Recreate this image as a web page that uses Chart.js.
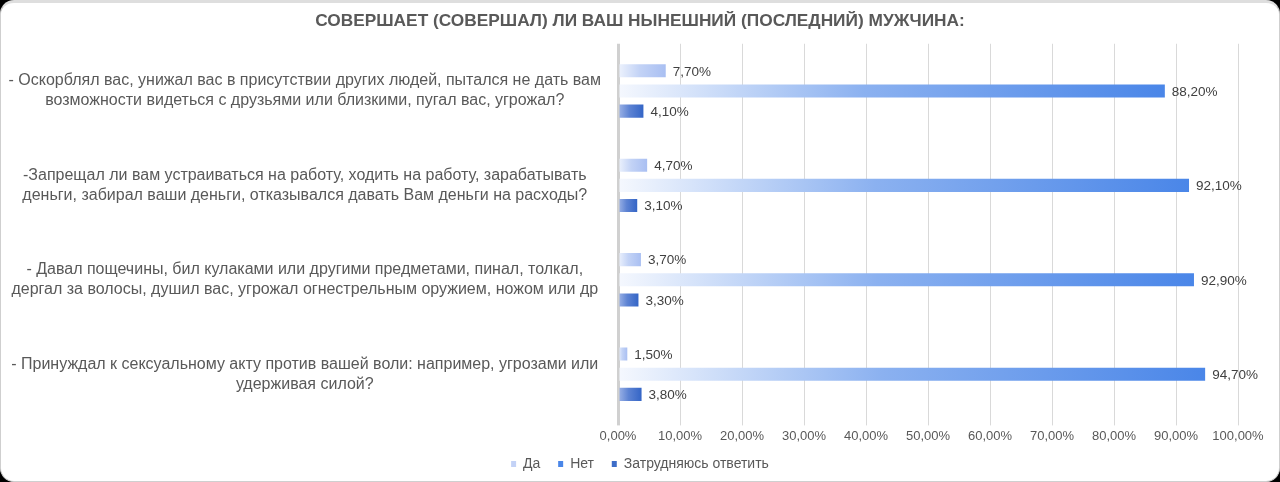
<!DOCTYPE html>
<html>
<head>
<meta charset="utf-8">
<script src="https://cdn.jsdelivr.net/npm/chart.js@4"></script>
<style>
  html, body { margin: 0; padding: 0; background: #000; }
  #wrap { position: relative; width: 1280px; height: 482px; }
  #card { position: absolute; left: 0; top: 0; width: 1278px; height: 478px; background: #fff;
          border: 1px solid #cfcfcf; border-top: 3px solid #dedede; border-radius: 14px; }
  #c { position: absolute; left: 0; top: 0; }
</style>
</head>
<body>
<div id="wrap">
  <div id="card"></div>
  <canvas id="c" width="1280" height="482"></canvas>
</div>
<script>
const titleText = 'СОВЕРШАЕТ (СОВЕРШАЛ) ЛИ ВАШ НЫНЕШНИЙ (ПОСЛЕДНИЙ) МУЖЧИНА:';
const categories = [
  ['- Оскорблял вас, унижал вас в присутствии других людей, пытался не дать вам', 'возможности видеться с друзьями или близкими, пугал вас, угрожал?'],
  ['-Запрещал ли вам устраиваться на работу, ходить на работу, зарабатывать', 'деньги, забирал ваши деньги, отказывался давать Вам деньги на расходы?'],
  ['- Давал пощечины, бил кулаками или другими предметами, пинал, толкал,', 'дергал за волосы, душил вас, угрожал огнестрельным оружием, ножом или др'],
  ['- Принуждал к сексуальному акту против вашей воли: например, угрозами или', 'удерживая силой?']
];
const seriesNames = ['Да', 'Нет', 'Затрудняюсь ответить'];
const daValues = [7.7, 4.7, 3.7, 1.5];
const netValues = [88.2, 92.1, 92.9, 94.7];
const zatrValues = [4.1, 3.1, 3.3, 3.8];

const gradSpecs = [
  { from: '#eef3fd', to: '#a9bff2', legend: '#c3d2f6' },
  { from: '#f5f8fe', to: '#4a86e8', legend: '#4a86e8' },
  { from: '#9fb5e7', to: '#3465c6', legend: '#3d6dc8' }
];

function hex(h) { return [1, 3, 5].map(i => parseInt(h.substr(i, 2), 16)); }
function mix(a, b, t) {
  const A = hex(a), B = hex(b);
  return 'rgb(' + A.map((v, i) => Math.round(v + (B[i] - v) * t)).join(',') + ')';
}

function makeBg(spec) {
  return function (ctx) {
    const chart = ctx.chart;
    if (ctx.type !== 'data' || !chart.chartArea || !chart.scales.x) return spec.legend;
    const xs = chart.scales.x;
    const x0 = xs.getPixelForValue(0);
    const x1 = xs.getPixelForValue(ctx.raw);
    if (!isFinite(x0) || !isFinite(x1) || x1 - x0 < 1) return spec.to;
    const g = chart.ctx.createLinearGradient(x0, 0, x1, 0);
    g.addColorStop(0, spec.from);
    g.addColorStop(0.45, mix(spec.from, spec.to, 0.62));
    g.addColorStop(1, spec.to);
    return g;
  };
}

function fmt(v) { return v.toFixed(2).replace('.', ',') + '%'; }

const valueLabels = {
  id: 'valueLabels',
  afterDatasetsDraw(chart) {
    const c = chart.ctx;
    c.save();
    c.font = '13.5px "Liberation Sans", Arial, sans-serif';
    c.fillStyle = '#404040';
    c.textAlign = 'left';
    c.textBaseline = 'middle';
    chart.data.datasets.forEach((ds, i) => {
      const meta = chart.getDatasetMeta(i);
      meta.data.forEach((bar, j) => {
        c.fillText(fmt(ds.data[j]), bar.x + 7, bar.y + 1);
      });
    });
    c.restore();
  }
};

const datasets = [daValues, netValues, zatrValues].map((vals, i) => ({
  label: seriesNames[i],
  data: vals,
  backgroundColor: makeBg(gradSpecs[i]),
  borderWidth: 0,
  barPercentage: 0.65,
  categoryPercentage: 0.64
}));

new Chart(document.getElementById('c'), {
  type: 'bar',
  data: { labels: categories, datasets },
  plugins: [valueLabels],
  options: {
    indexAxis: 'y',
    responsive: false,
    animation: false,
    layout: { padding: { left: 0, right: 0, top: 0, bottom: 1 } },
    plugins: {
      title: {
        display: true,
        text: titleText,
        color: '#595959',
        font: { family: '"Liberation Sans", Arial, sans-serif', size: 17.3, weight: 'bold' },
        padding: { top: 11, bottom: 12 }
      },
      legend: {
        position: 'bottom',
        labels: {
          color: '#595959',
          font: { family: '"Liberation Sans", Arial, sans-serif', size: 14 },
          boxWidth: 5,
          boxHeight: 6,
          padding: 10,
          generateLabels(chart) {
            return chart.data.datasets.map((ds, i) => ({
              text: i < chart.data.datasets.length - 1 ? ds.label + '  ' : ds.label,
              fillStyle: gradSpecs[i].legend,
              strokeStyle: gradSpecs[i].legend,
              lineWidth: 0,
              hidden: false,
              datasetIndex: i,
              fontColor: '#595959'
            }));
          }
        }
      },
      tooltip: { enabled: false }
    },
    scales: {
      x: {
        min: 0, max: 100,
        ticks: {
          stepSize: 10,
          callback: (v) => fmt(v),
          color: '#595959',
          font: { family: '"Liberation Sans", Arial, sans-serif', size: 13 },
          padding: 3
        },
        grid: {
          color: (ctx) => ctx.tick && ctx.tick.value === 0 ? '#d0d0d0' : '#d9d9d9',
          lineWidth: (ctx) => ctx.tick && ctx.tick.value === 0 ? 3 : 1,
          drawTicks: true,
          tickLength: 4
        },
        border: { display: false },
        afterFit(scale) { scale.paddingRight = 42; }
      },
      y: {
        ticks: {
          color: '#595959',
          font: { family: '"Liberation Sans", Arial, sans-serif', size: 16, lineHeight: 1.25 },
          crossAlign: 'center',
          padding: 17
        },
        grid: { display: false, drawTicks: false },
        border: { display: false },
        afterFit(scale) { scale.width = 618; }
      }
    }
  }
});
</script>
</body>
</html>
